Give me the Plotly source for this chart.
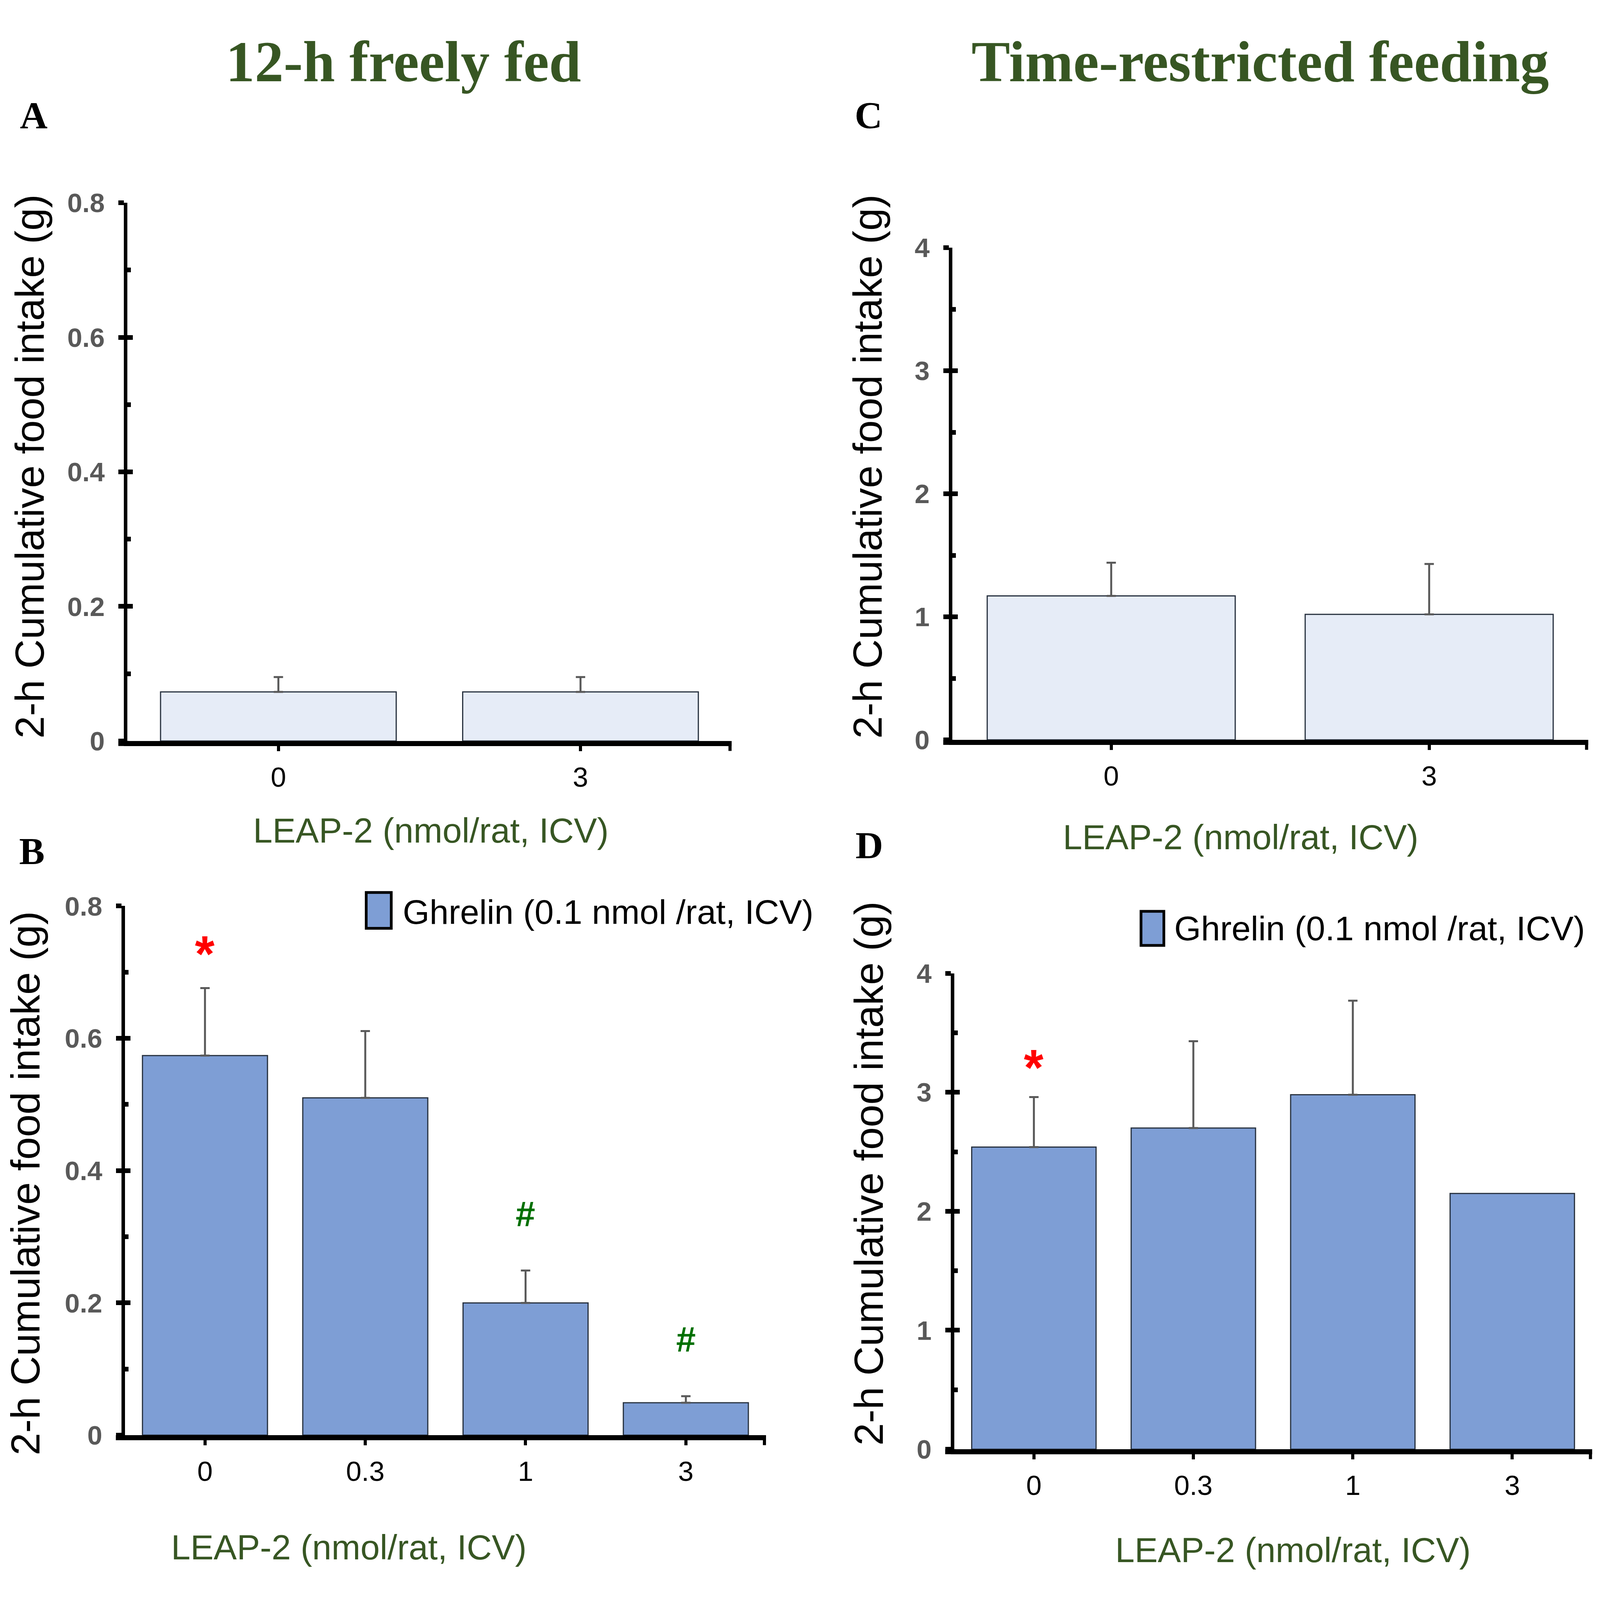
import plotly.graph_objects as go

# Reference geometry (positions are read in reference pixels and turned into
# paper fractions); the browser viewport is 4096 x 4096, so the canvas fills it.
REF_W, REF_H = 5811, 4152
CW, CH = 4096, 4096
SX = CW / REF_W
SY = CH / REF_H
SF = 0.76            # font scale

# ---------------- data ----------------
doses_vehicle = ['0', '3']
doses_ghrelin = ['0', '0.3', '1', '3']

ff_vehicle = [0.073, 0.073]
ff_vehicle_err = [0.022, 0.022]
ff_ghrelin = [0.574, 0.510, 0.200, 0.049]
ff_ghrelin_err = [0.102, 0.101, 0.049, 0.010]

trf_vehicle = [1.17, 1.02]
trf_vehicle_err = [0.27, 0.41]
trf_ghrelin = [2.54, 2.70, 2.98, 2.15]
trf_ghrelin_err = [0.42, 0.73, 0.79]          # last bar has no error bar

sig_ff = ['*', '', '#', '#']
sig_trf = ['*', '', '', '']

yticks_ff = [0, 0.2, 0.4, 0.6, 0.8]
yticks_trf = [0, 1, 2, 3, 4]

title_left = '12-h freely fed'
title_right = 'Time-restricted feeding'
ytitle = '2-h Cumulative food intake (g)'
xtitle = 'LEAP-2 (nmol/rat, ICV)'
legend_text = 'Ghrelin (0.1 nmol /rat, ICV)'

# ---------------- styles ----------------
GREEN = '#375623'
LIGHT = '#E6ECF7'
BLUE = '#7E9ED5'
EDGE = '#27313F'
ERR = '#595959'
LWY = 9      # y-axis line width (px)
LWX = 13     # x-axis line width (px)
SANS = 'Liberation Sans, Arial, sans-serif'
NARROW = 'Liberation Sans Narrow, Arial Narrow, Liberation Sans, Arial, sans-serif'
SERIF = 'Liberation Serif, Times New Roman, serif'


def fx(p):
    return p / REF_W


def fy(p):
    return 1 - p / REF_H


def dx(px):
    return px / CW


def dy(px):
    return px / CH


# plot areas in reference pixels: (left, right, top, bottom) = axis-line centres
boxes = {
    'A': (456, 2657, 497, 1927),
    'B': (447, 2782, 2357, 3763),
    'C': (3452, 5768, 616, 1924),
    'D': (3459, 5782, 2535, 3800),
}


def xdom(b):
    return [fx(b[0]) + dx(LWY / 2.0), fx(b[1])]


def ydom(b):
    return [fy(b[3]) + dy(LWX / 2.0), fy(b[2])]


def fmt(v):
    return '%g' % v


fig = go.Figure()

panels = [
    ('A', 'x', 'y', doses_vehicle, ff_vehicle, ff_vehicle_err, LIGHT, yticks_ff, None),
    ('B', 'x2', 'y2', doses_ghrelin, ff_ghrelin, ff_ghrelin_err, BLUE, yticks_ff, sig_ff),
    ('C', 'x3', 'y3', doses_vehicle, trf_vehicle, trf_vehicle_err, LIGHT, yticks_trf, None),
    ('D', 'x4', 'y4', doses_ghrelin, trf_ghrelin, trf_ghrelin_err, BLUE, yticks_trf, sig_trf),
]

annotations = []
shapes = []

for i, (key, xa, ya, cats, vals, errs, col, yt, sig) in enumerate(panels):
    fig.add_trace(go.Bar(
        x=cats, y=vals, xaxis=xa, yaxis=ya, width=0.78,
        marker=dict(color=col, line=dict(color=EDGE, width=3)),
        error_y=dict(type='data', symmetric=False, array=errs,
                     arrayminus=[0] * len(errs), color=ERR,
                     thickness=5, width=12),
        showlegend=False, hoverinfo='x+y'))
    # helper trace so the overlay axis (outer half of the crossing ticks) is drawn
    ov = 'y%d' % (i + 5)
    fig.add_trace(go.Scatter(x=[], y=[], xaxis=xa, yaxis=ov, showlegend=False,
                             hoverinfo='skip'))

    b = boxes[key]
    rng = [yt[0], yt[-1]]
    minor_vals = [(a + c) / 2.0 for a, c in zip(yt[:-1], yt[1:])]
    xkey = 'xaxis' if xa == 'x' else 'xaxis' + xa[1:]
    ykey = 'yaxis' if ya == 'y' else 'yaxis' + ya[1:]
    fig.layout[xkey] = dict(
        domain=xdom(b), anchor=ya, type='category',
        categoryorder='array', categoryarray=cats,
        range=[-0.5, len(cats) - 0.5],
        showline=True, linewidth=LWX, linecolor='black',
        ticks='outside', ticklen=13, tickwidth=8, tickcolor='black',
        tickfont=dict(family=NARROW, size=round(93 * SF), color='black'),
        ticklabelstandoff=6, showgrid=False, zeroline=False, fixedrange=True)
    fig.layout[ykey] = dict(
        domain=ydom(b), anchor=xa, range=rng,
        tickmode='array', tickvals=yt, ticktext=[fmt(v) for v in yt],
        showline=True, linewidth=LWY, linecolor='black',
        ticks='inside', ticklen=14, tickwidth=12, tickcolor='black',
        minor=dict(tickmode='array', tickvals=minor_vals, ticks='inside',
                   ticklen=9, tickwidth=12, tickcolor='black', showgrid=False),
        tickfont=dict(family=SANS, size=round(91 * SF), color='#595959', weight=700),
        ticklabelstandoff=35, showgrid=False, zeroline=False, fixedrange=True)
    fig.layout['yaxis%d' % (i + 5)] = dict(
        domain=ydom(b), anchor=xa, overlaying=ya, side='left', range=rng,
        tickmode='array', tickvals=yt, showticklabels=False,
        showline=True, linewidth=LWY, linecolor='black',
        ticks='outside', ticklen=14, tickwidth=12, tickcolor='black',
        showgrid=False, zeroline=False, fixedrange=True)

    # x-axis line running slightly left of the y axis, and tick at its right end
    yline = fy(b[3])
    shapes.append(dict(type='line', xref='paper', yref='paper',
                       x0=fx(b[0]) - dx(LWY / 2.0 + 14), x1=fx(b[0]) + dx(LWY),
                       y0=yline, y1=yline,
                       line=dict(color='black', width=LWX)))
    shapes.append(dict(type='line', xref='paper', yref='paper',
                       x0=fx(b[1]) - dx(4), x1=fx(b[1]) - dx(4),
                       y0=yline - dy(LWX / 2.0), y1=yline - dy(LWX / 2.0 + 13),
                       line=dict(color='black', width=8)))

    # significance marks
    if sig:
        span = rng[1] - rng[0]
        for j, (v, s) in enumerate(zip(vals, sig)):
            if not s:
                continue
            top = v + (errs[j] if j < len(errs) else 0)
            if s == '*':
                annotations.append(dict(
                    x=j, y=top + 0.086 * span, xref=xa, yref=ya, text=s,
                    showarrow=False, yanchor='middle', yshift=-round(38 * SF),
                    font=dict(family=SANS, size=round(170 * SF), color='#FF0000',
                              weight=700)))
            else:
                annotations.append(dict(
                    x=j, y=top + 0.107 * span, xref=xa, yref=ya, text=s,
                    showarrow=False, yanchor='middle',
                    font=dict(family=SANS, size=round(119 * SF), color='#007000',
                              weight=700)))


def ann(text, x, y, font, **kw):
    d = dict(text=text, x=fx(x), y=fy(y), xref='paper', yref='paper',
             showarrow=False, font=font)
    d.update(kw)
    annotations.append(d)


title_font = dict(family=SERIF, size=round(195 * SF), color=GREEN, weight=700)
ann(title_left, 1465, 124, title_font, xanchor='center', yanchor='middle')
ann(title_right, 4577, 124, title_font, xanchor='center', yanchor='middle')

letter_font = dict(family=SERIF, size=round(129 * SF), color='black', weight=700)
ann('A', 70, 266, letter_font, xanchor='left', yanchor='middle')
ann('B', 66, 2212, letter_font, xanchor='left', yanchor='middle')
ann('C', 3101, 266, letter_font, xanchor='left', yanchor='middle')
ann('D', 3104, 2196, letter_font, xanchor='left', yanchor='middle')

yt_font = dict(family=SANS, size=round(116 * 0.9), color='black')
ann(ytitle, 108, 1195, yt_font, textangle=-90, xanchor='center', yanchor='middle')
ann(ytitle, 92, 3090, yt_font, textangle=-90, xanchor='center', yanchor='middle')
ann(ytitle, 3150, 1195, yt_font, textangle=-90, xanchor='center', yanchor='middle')
ann(ytitle, 3155, 3064, yt_font, textangle=-90, xanchor='center', yanchor='middle')

xt_font = dict(family=SANS, size=round(117 * SF), color=GREEN)
ann(xtitle, 1565, 2157, xt_font, xanchor='center', yanchor='middle')
ann(xtitle, 1267, 4053, xt_font, xanchor='center', yanchor='middle')
ann(xtitle, 4506, 2175, xt_font, xanchor='center', yanchor='middle')
ann(xtitle, 4696, 4060, xt_font, xanchor='center', yanchor='middle')

# legends drawn by hand so the swatch can be as large as in the reference
lg_font = dict(family=SANS, size=round(116 * SF), color='black')
for (x0, x1, y0, y1, tx, ty) in [(1330, 1421, 2321, 2416, 1460, 2372),
                                 (4144, 4227, 2371, 2461, 4262, 2416)]:
    shapes.append(dict(type='rect', xref='paper', yref='paper',
                       x0=fx(x0), x1=fx(x1), y0=fy(y1), y1=fy(y0),
                       fillcolor=BLUE, line=dict(color='black', width=7)))
    ann(legend_text, tx, ty, lg_font, xanchor='left', yanchor='middle')

fig.update_layout(
    width=CW, height=CH,
    margin=dict(l=0, r=0, t=0, b=0),
    paper_bgcolor='white', plot_bgcolor='white',
    showlegend=False, barmode='group',
    annotations=annotations, shapes=shapes,
)

page_fix = ("document.documentElement.style.margin='0';"
            "document.body.style.margin='0';"
            "document.body.style.overflow='hidden';"
            "document.documentElement.style.overflow='hidden';")
fig.write_html('out.html', post_script=page_fix,
               config={'displayModeBar': False, 'responsive': False})
